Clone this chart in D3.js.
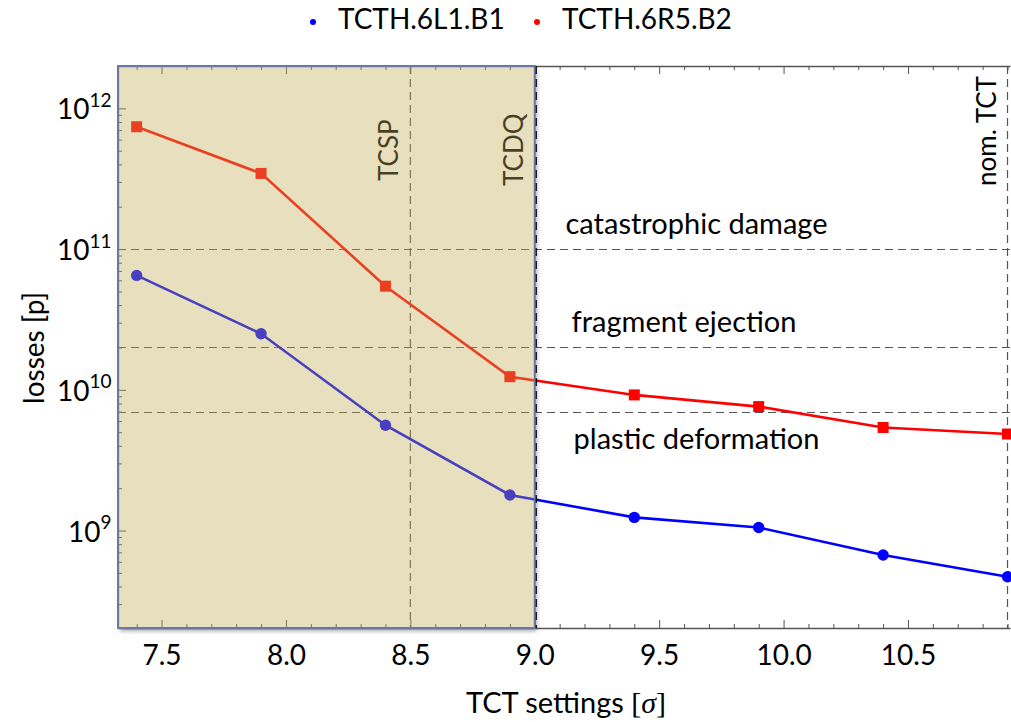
<!DOCTYPE html>
<html>
<head>
<meta charset="utf-8">
<script src="https://cdn.jsdelivr.net/npm/d3@7"></script>
<style>
  html, body { margin: 0; padding: 0; background: #fff; }
  svg { display: block; font-family: Lato, "Open Sans", sans-serif; }
</style>
</head>
<body>
<svg id="chart" width="1011" height="722"></svg>
<script>
// TCT setting scan: beam losses at the tertiary collimators
const settings = [7.4, 7.9, 8.4, 8.9, 9.4, 9.9, 10.4, 10.9];
const lossesB1 = [6.5e10, 2.5e10, 5.6e9, 1.79e9, 1.24e9, 1.05e9, 6.7e8, 4.7e8];
const lossesB2 = [7.4e11, 3.45e11, 5.45e10, 1.24e10, 9.2e9, 7.6e9, 5.4e9, 4.85e9];
const seriesNames = ["TCTH.6L1.B1", "TCTH.6R5.B2"];

// damage thresholds
const thresholdValues = [1e11, 2e10, 7e9];
const thresholdLabels = ["catastrophic damage", "fragment ejection", "plastic deformation"];
const thresholdLabelX = [9.65, 9.6, 9.65];

// reference settings of other collimators
const refSettings = [8.5, 9.0, 10.9];
const refLabels = ["TCSP", "TCDQ", "nom. TCT"];

// shaded zone: settings tighter than the TCDQ
const shadedRange = [7.325, 9.0];

const xTicks = [7.5, 8.0, 8.5, 9.0, 9.5, 10.0, 10.5];
const xTickLabels = ["7.5", "8.0", "8.5", "9.0", "9.5", "10.0", "10.5"];
const yTicks = [1e9, 1e10, 1e11, 1e12];
const yTickExp = ["9", "10", "11", "12"];

const plotL = 118, plotR = 1010, plotT = 66, plotB = 628;
const svg = d3.select("#chart");

const x = d3.scaleLinear().domain([7.325, 10.91]).range([plotL, plotR]);
const y = d3.scaleLog().domain([2.03e8, 2.0e12]).range([plotB, plotT]);

const axisColor = "#555";

// ---- frame and ticks ----
const minorX = d3.range(74, 110).map(d => d / 10).filter(v => v > 7.33 && v < 10.91 && !xTicks.some(t => Math.abs(t - v) < 1e-9));

function styleAxis(g) {
  g.selectAll(".domain").attr("stroke", axisColor).attr("stroke-width", 1.3);
  g.selectAll(".tick line").attr("stroke", axisColor);
}

const gx = svg.append("g").attr("transform", `translate(0,${plotB})`)
  .call(d3.axisBottom(x).tickValues(xTicks).tickSizeInner(-8).tickSizeOuter(0).tickPadding(17)
    .tickFormat((d, i) => xTickLabels[i]));
styleAxis(gx);
gx.selectAll(".tick text").attr("font-size", 28).attr("fill", "#000").attr("font-family", "Lato");
svg.append("g").attr("transform", `translate(0,${plotB})`)
  .call(d3.axisBottom(x).tickValues(minorX).tickSizeInner(-4).tickSizeOuter(0).tickFormat(""))
  .call(styleAxis).select(".domain").remove();

const gt = svg.append("g").attr("transform", `translate(0,${plotT})`)
  .call(d3.axisTop(x).tickValues(xTicks).tickSizeInner(-8).tickSizeOuter(0).tickFormat(""));
styleAxis(gt);
svg.append("g").attr("transform", `translate(0,${plotT})`)
  .call(d3.axisTop(x).tickValues(minorX).tickSizeInner(-4).tickSizeOuter(0).tickFormat(""))
  .call(styleAxis).select(".domain").remove();

const gy = svg.append("g").attr("transform", `translate(${plotL},0)`)
  .call(d3.axisLeft(y).tickValues(yTicks).tickSizeInner(-8).tickSizeOuter(0).tickFormat(""));
styleAxis(gy);
const minorY = y.ticks().filter(v => !yTicks.includes(v));
svg.append("g").attr("transform", `translate(${plotL},0)`)
  .call(d3.axisLeft(y).tickValues(minorY).tickSizeInner(-4).tickSizeOuter(0).tickFormat(""))
  .call(styleAxis).select(".domain").remove();

// y tick labels as powers of ten
yTicks.forEach((v, i) => {
  const t = svg.append("text")
    .attr("x", plotL - 6.5).attr("y", y(v) + 11)
    .attr("text-anchor", "end").attr("font-size", 28).attr("fill", "#000");
  t.append("tspan").text("10");
  t.append("tspan").attr("dy", -12.5).attr("font-size", 19).text(yTickExp[i]);
});

// ---- reference lines ----
const dash = "8,5";
const grid = svg.append("g").attr("stroke", axisColor).attr("stroke-width", 1.2).attr("stroke-dasharray", dash);
grid.selectAll("line.h").data(thresholdValues).join("line")
  .attr("x1", plotL).attr("x2", plotR)
  .attr("y1", d => Math.round(y(d)) + 0.5).attr("y2", d => Math.round(y(d)) + 0.5);
grid.selectAll("line.v").data(refSettings.filter(v => v !== shadedRange[1])).join("line")
  .attr("x1", d => x(d)).attr("x2", d => x(d))
  .attr("y1", plotT).attr("y2", plotB);

// ---- data ----
const line = d3.line().x((d, i) => x(settings[i])).y(d => y(d));
svg.append("path").datum(lossesB1).attr("d", line)
  .attr("fill", "none").attr("stroke", "#0000ff").attr("stroke-width", 2.6);
svg.append("path").datum(lossesB2).attr("d", line)
  .attr("fill", "none").attr("stroke", "#ff0000").attr("stroke-width", 2.6);
svg.selectAll("circle.b1").data(lossesB1).join("circle")
  .attr("cx", (d, i) => x(settings[i])).attr("cy", d => y(d)).attr("r", 5.7).attr("fill", "#0000ff");
svg.selectAll("rect.b2").data(lossesB2).join("rect")
  .attr("x", (d, i) => x(settings[i]) - 5.5).attr("y", d => y(d) - 5.5)
  .attr("width", 11).attr("height", 11).attr("fill", "#ff0000");

// ---- annotations ----
thresholdLabels.forEach((lab, i) => {
  const yy = y(thresholdValues[i]);
  svg.append("text")
    .attr("x", x(thresholdLabelX[i])).attr("y", i < 2 ? yy - 15 : yy + 37)
    .attr("text-anchor", "middle").attr("font-size", 29).attr("fill", "#000").text(lab);
});
refLabels.forEach((lab, i) => {
  const xx = x(refSettings[i]) - 12;
  svg.append("text")
    .attr("transform", `translate(${xx},${i === 0 ? 181 : 186}) rotate(-90)`)
    .attr("text-anchor", "start").attr("font-size", 26).attr("fill", "#000").text(lab);
});

// ---- shaded zone with soft shadow ----
const defs = svg.append("defs");
const blur = defs.append("filter").attr("id", "soft").attr("x", "-10%").attr("y", "-10%").attr("width", "120%").attr("height", "120%");
blur.append("feGaussianBlur").attr("stdDeviation", 2.2);
const zx0 = x(shadedRange[0]), zx1 = x(shadedRange[1]);
const mask = defs.append("mask").attr("id", "outside");
mask.append("rect").attr("x", 0).attr("y", 0).attr("width", 1011).attr("height", 722).attr("fill", "#fff");
mask.append("rect").attr("x", zx0).attr("y", plotT).attr("width", zx1 - zx0).attr("height", plotB - plotT).attr("fill", "#000");
svg.append("g").attr("mask", "url(#outside)")
  .append("rect").attr("x", zx0 + 2).attr("y", plotT + 3).attr("width", zx1 - zx0).attr("height", plotB - plotT)
  .attr("fill", "#000").attr("opacity", 0.35).attr("filter", "url(#soft)");
svg.append("rect")
  .attr("x", zx0).attr("y", plotT).attr("width", zx1 - zx0).attr("height", plotB - plotT)
  .attr("fill", "rgb(194,170,85)").attr("fill-opacity", 0.376)
  .attr("stroke", "#6a78a8").attr("stroke-width", 2);

// TCDQ setting marker sits on the zone edge
svg.append("line")
  .attr("x1", x(shadedRange[1]) + 1.5).attr("x2", x(shadedRange[1]) + 1.5)
  .attr("y1", plotT).attr("y2", plotB)
  .attr("stroke", "#000").attr("stroke-width", 1.2).attr("stroke-dasharray", dash);

// ---- axis titles ----
const xt = svg.append("text").attr("x", 566).attr("y", 713).attr("text-anchor", "middle")
  .attr("font-size", 29).attr("fill", "#000");
xt.append("tspan").text("TCT settings ");
xt.append("tspan").attr("font-family", "Liberation Serif").attr("font-size", 30).text("[");
xt.append("tspan").attr("font-family", "Liberation Serif").attr("font-style", "italic").attr("font-size", 30).text("σ");
xt.append("tspan").attr("font-family", "Liberation Serif").attr("font-size", 30).text("]");

svg.append("text").attr("transform", `translate(44,348) rotate(-90)`)
  .attr("text-anchor", "middle").attr("font-size", 28).attr("fill", "#000").text("losses [p]");

// ---- legend ----
const legendColors = ["#0000ff", "#ff0000"];
const legendX = [313, 537];
seriesNames.forEach((name, i) => {
  svg.append("circle").attr("cx", legendX[i]).attr("cy", 22).attr("r", 3).attr("fill", legendColors[i]);
  svg.append("text").attr("x", legendX[i] + 25).attr("y", 28.5)
    .attr("font-size", 28).attr("fill", "#000").text(name);
});
</script>
</body>
</html>
